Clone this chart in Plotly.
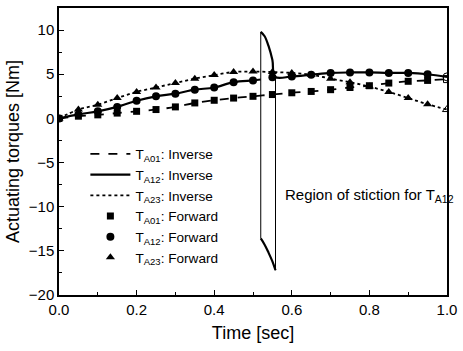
import plotly.graph_objects as go

time = [0.0, 0.05, 0.1, 0.15, 0.2, 0.25, 0.3, 0.35, 0.4, 0.45, 0.5, 0.55, 0.6,
        0.65, 0.7, 0.75, 0.8, 0.85, 0.9, 0.95, 1.0]
ta01 = [0.0, 0.25, 0.4, 0.6, 0.8, 1.0, 1.3, 1.75, 2.05, 2.3, 2.5, 2.7, 2.9,
        3.05, 3.25, 3.5, 3.7, 4.0, 4.2, 4.3, 4.45]
ta12 = [0.0, 0.45, 0.8, 1.3, 2.0, 2.5, 2.8, 3.25, 3.5, 4.1, 4.3, 4.65, 4.75,
        4.95, 5.15, 5.2, 5.2, 5.15, 5.15, 5.0, 4.7]
ta23 = [0.0, 1.0, 1.55, 2.3, 3.0, 3.5, 4.0, 4.5, 4.9, 5.25, 5.3, 5.25, 5.15,
        4.95, 4.5, 4.1, 3.6, 3.0, 2.3, 1.6, 1.0]

# inverse T_A12 with stiction spike
inv12_x = [0.0, 0.05, 0.1, 0.15, 0.2, 0.25, 0.3, 0.35, 0.4, 0.45, 0.5, 0.52, None,
           0.52, 0.53, 0.54, 0.55, 0.557, 0.6, 0.65, 0.7, 0.75, 0.8, 0.85, 0.9, 0.95, 1.0, None,
           0.52, 0.53, 0.54, 0.55, 0.558]
inv12_y = [0.0, 0.45, 0.8, 1.3, 2.0, 2.5, 2.8, 3.25, 3.5, 4.1, 4.3, 4.4, None,
           9.8, 9.3, 8.2, 6.6, 4.7, 4.75, 4.95, 5.15, 5.2, 5.2, 5.15, 5.15, 5.0, 4.7, None,
           -13.6, -14.3, -15.2, -16.2, -17.2]
stic_x = [0.52, 0.52, None, 0.558, 0.558]
stic_y = [9.8, -13.6, None, -17.2, 4.7]

FONT = "Liberation Sans, Arial, sans-serif"
fig = go.Figure()

def open_last(sym):
    return [sym] * (len(time) - 1) + [sym + "-open"]

fig.add_trace(go.Scatter(x=time, y=ta01, mode="lines", name="T<sub>A01</sub>: Inverse",
                         line=dict(color="black", width=1.8, dash="dash", shape="spline")))
fig.add_trace(go.Scatter(x=inv12_x, y=inv12_y, mode="lines", name="T<sub>A12</sub>: Inverse",
                         line=dict(color="black", width=2.2, shape="spline")))
fig.add_trace(go.Scatter(x=time, y=ta23, mode="lines", name="T<sub>A23</sub>: Inverse",
                         line=dict(color="black", width=1.8, dash="dot", shape="spline")))
fig.add_trace(go.Scatter(x=stic_x, y=stic_y, mode="lines", showlegend=False,
                         line=dict(color="black", width=1)))
fig.add_trace(go.Scatter(x=time, y=ta01, mode="markers", name="T<sub>A01</sub>: Forward",
                         marker=dict(color="black", size=7, symbol=open_last("square"))))
fig.add_trace(go.Scatter(x=time, y=ta12, mode="markers", name="T<sub>A12</sub>: Forward",
                         marker=dict(color="black", size=8, symbol=open_last("circle"))))
fig.add_trace(go.Scatter(x=time, y=ta23, mode="markers", name="T<sub>A23</sub>: Forward",
                         marker=dict(color="black", size=8, symbol=open_last("triangle-up"))))

fig.add_annotation(x=0.578, y=-8.7, xref="x", yref="y", xanchor="left", showarrow=False,
                   text="Region of stiction for T<sub>A12</sub>",
                   font=dict(family=FONT, size=15, color="black"))

fig.update_layout(
    width=463, height=351,
    margin=dict(l=59, r=11, t=6, b=56),
    paper_bgcolor="white", plot_bgcolor="white",
    font=dict(family=FONT, size=15, color="black"),
    showlegend=True,
    legend=dict(x=0.068, y=0.545, xanchor="left", yanchor="top", bgcolor="rgba(0,0,0,0)",
                itemwidth=40, font=dict(family=FONT, size=13.6), tracegroupgap=0),
)
fig.update_xaxes(range=[0, 1.0], tickvals=[0, 0.2, 0.4, 0.6, 0.8, 1.0],
                 ticktext=["0.0", "0.2", "0.4", "0.6", "0.8", "1.0"],
                 ticks="inside", ticklen=5, tickcolor="black", showline=True, linecolor="black",
                 linewidth=1.5, mirror=True, showgrid=False, zeroline=False,
                 minor=dict(dtick=0.1, ticks="inside", ticklen=3, tickcolor="black"),
                 title=dict(text="Time [sec]", font=dict(size=18), standoff=10))
fig.update_yaxes(range=[-20, 12.5], tickvals=[-20, -15, -10, -5, 0, 5, 10],
                 ticks="inside", ticklen=5, tickcolor="black", showline=True, linecolor="black",
                 linewidth=1.5, mirror=True, showgrid=False, zeroline=False,
                 minor=dict(dtick=2.5, ticks="inside", ticklen=3, tickcolor="black"),
                 title=dict(text="Actuating torques [Nm]", font=dict(size=18), standoff=4))

fig.write_html("out.html", config={"displayModeBar": False},
               post_script="document.body.style.margin='0';")
